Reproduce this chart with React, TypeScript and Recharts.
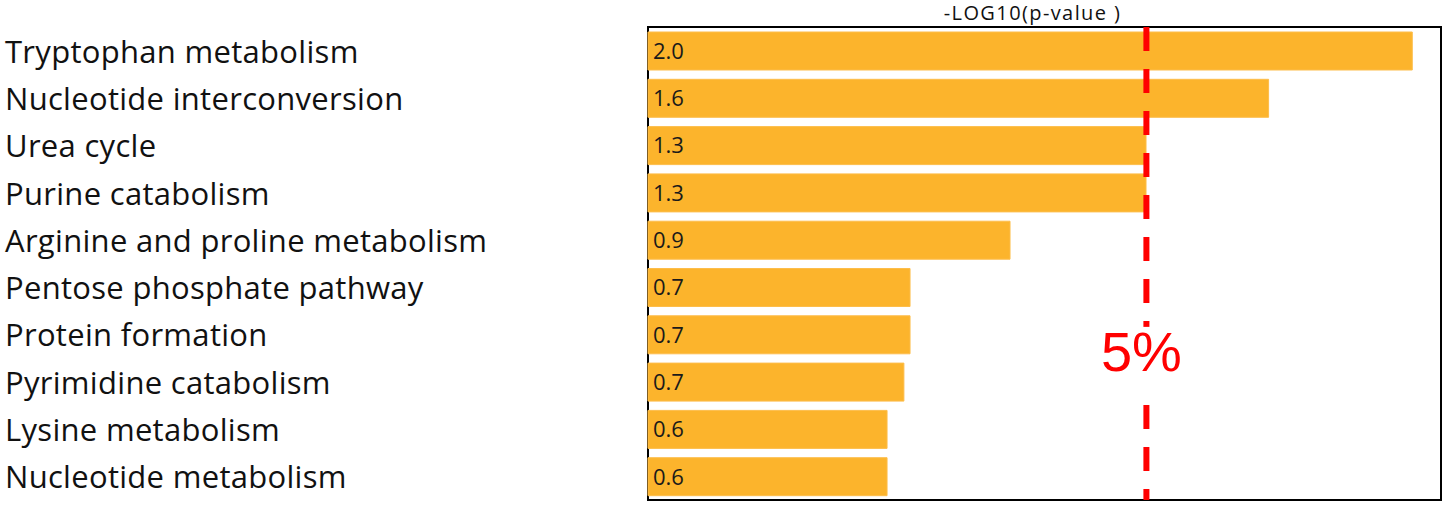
import React from 'react';
import {
  BarChart,
  Bar,
  XAxis,
  YAxis,
  ReferenceLine,
  ReferenceArea,
  LabelList
} from 'recharts';

const pathways = [
  'Tryptophan metabolism',
  'Nucleotide interconversion',
  'Urea cycle',
  'Purine catabolism',
  'Arginine and proline metabolism',
  'Pentose phosphate pathway',
  'Protein formation',
  'Pyrimidine catabolism',
  'Lysine metabolism',
  'Nucleotide metabolism'
];

const logP = [1.995, 1.62, 1.3, 1.3, 0.945, 0.684, 0.684, 0.668, 0.624, 0.624];

const X_MAX = 2.07;
const THRESHOLD = 1.301; // -log10(0.05)

const data = pathways.map((name, i) => ({ name, value: logP[i] }));

const LABEL_FONT = '"Open Sans", Lato, sans-serif';

const PathwayTick = (props: any) => {
  const { y, payload } = props;
  return (
    <text
      x={5}
      y={y}
      dy={12}
      textAnchor="start"
      fontFamily={LABEL_FONT}
      fontSize={31}
      letterSpacing={0.3}
      fill="#111"
    >
      {payload.value}
    </text>
  );
};

const TitleLabel = (props: any) => {
  const { viewBox } = props;
  const cx = viewBox.x + viewBox.width / 2 - 12;
  return (
    <text
      x={cx}
      y={20}
      textAnchor="middle"
      fontFamily={LABEL_FONT}
      fontSize={20}
      letterSpacing={1.4}
      fill="#111"
    >
      -LOG10(p-value )
    </text>
  );
};

const ThresholdLabel = (props: any) => {
  const { viewBox } = props;
  const x = viewBox.x;
  const y = viewBox.y + viewBox.height * 0.727;
  return (
    <g>
      <rect x={x - 6} y={y - 44} width={12} height={62} fill="#fff" />
      <text
        x={x - 5}
        y={y}
        textAnchor="middle"
        fontFamily='"Liberation Sans", Arial, sans-serif'
        fontSize={56}
        fill="#ff0000"
      >
        5%
      </text>
    </g>
  );
};

export default function App() {
  return (
    <div style={{ position: 'absolute', left: 0, top: 0, background: '#fff' }}>
      <BarChart
        width={1450}
        height={505}
        data={data}
        layout="vertical"
        margin={{ top: 0, right: 9, bottom: 5, left: 0 }}
        barSize={38}
      >
        <XAxis
          type="number"
          orientation="top"
          domain={[0, X_MAX]}
          height={27}
          tick={false}
          axisLine={false}
          tickLine={false}
          label={<TitleLabel />}
        />
        <YAxis
          type="category"
          dataKey="name"
          width={648}
          axisLine={false}
          tickLine={false}
          tick={<PathwayTick />}
          interval={0}
        />
        <Bar dataKey="value" fill="#fcb42c" stroke="#fdbd4a" strokeWidth={1} isAnimationActive={false}>
          <LabelList
            dataKey="value"
            position="insideLeft"
            offset={5}
            formatter={(v: any) => Number(v).toFixed(1)}
            style={{ fontFamily: LABEL_FONT, fontSize: 22, fill: '#1a1a1a' }}
          />
        </Bar>
        <ReferenceLine
          x={THRESHOLD}
          stroke="#ff0000"
          strokeWidth={6}
          strokeDasharray="24 18"
          label={<ThresholdLabel />}
        />
        <ReferenceArea x1={0} x2={X_MAX} fill="none" stroke="#000" strokeWidth={2} fillOpacity={0} />
      </BarChart>
    </div>
  );
}
